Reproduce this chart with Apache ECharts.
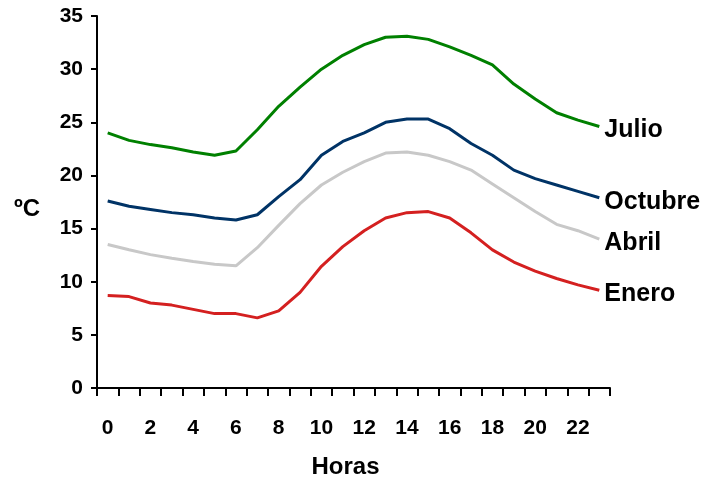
<!DOCTYPE html>
<html>
<head>
<meta charset="utf-8">
<script src="https://cdn.jsdelivr.net/npm/echarts@6/dist/echarts.min.js"></script>
<style>
html,body{margin:0;padding:0;background:#fff;}
#chart{width:702px;height:484px;}
</style>
</head>
<body>
<div id="chart"></div>
<script>
var hours = ['0','1','2','3','4','5','6','7','8','9','10','11','12','13','14','15','16','17','18','19','20','21','22','23'];
var julio   = [24.0, 23.3, 22.9, 22.6, 22.2, 21.9, 22.3, 24.3, 26.5, 28.3, 30.0, 31.3, 32.3, 33.0, 33.1, 32.8, 32.1, 31.3, 30.4, 28.6, 27.2, 25.9, 25.2, 24.6];
var octubre = [17.6, 17.1, 16.8, 16.5, 16.3, 16.0, 15.8, 16.3, 18.0, 19.6, 21.9, 23.2, 24.0, 25.0, 25.3, 25.3, 24.4, 23.0, 21.9, 20.5, 19.7, 19.1, 18.5, 17.9];
var abril   = [13.5, 13.0, 12.55, 12.2, 11.9, 11.65, 11.5, 13.2, 15.3, 17.35, 19.1, 20.3, 21.3, 22.1, 22.2, 21.9, 21.3, 20.5, 19.2, 17.9, 16.6, 15.4, 14.8, 14.0];
var enero   = [8.7, 8.6, 8.0, 7.8, 7.4, 7.0, 7.0, 6.6, 7.25, 9.0, 11.45, 13.3, 14.8, 16.0, 16.5, 16.6, 16.0, 14.6, 13.0, 11.85, 11.0, 10.3, 9.7, 9.2];
var seriesNames = ['Julio', 'Octubre', 'Abril', 'Enero'];
var seriesColors = ['#008000', '#003366', '#c8c8c8', '#d42020'];
var seriesData = [julio, octubre, abril, enero];
var xName = 'Horas';
var yName = 'ºC';

var font = 'Arial, "Liberation Sans", sans-serif';
var chart = echarts.init(document.getElementById('chart'), null, {renderer: 'canvas'});
var series = seriesNames.map(function (n, i) {
  return {
    name: n,
    type: 'line',
    data: seriesData[i],
    symbol: 'none',
    smooth: false,
    lineStyle: {color: seriesColors[i], width: 3},
    itemStyle: {color: seriesColors[i]},
    endLabel: {
      show: true,
      formatter: '{a}',
      color: '#000',
      fontFamily: font,
      fontWeight: 'bold',
      fontSize: 25,
      distance: 5,
      offset: [0, 4]
    },
    animation: false
  };
});
chart.setOption({
  animation: false,
  backgroundColor: '#fff',
  grid: {left: 97, top: 16, right: 92, bottom: 93, containLabel: false},
  xAxis: {
    type: 'category',
    data: hours,
    boundaryGap: true,
    name: xName,
    nameLocation: 'middle',
    nameGap: 67,
    nameTextStyle: {color: '#000', fontFamily: font, fontWeight: 'bold', fontSize: 24, padding: [0, 16, 0, 0]},
    axisLine: {show: true, lineStyle: {color: '#000', width: 2}},
    axisTick: {show: true, interval: 0, alignWithLabel: false, length: 8, lineStyle: {color: '#000', width: 2}},
    axisLabel: {interval: 1, color: '#000', fontFamily: font, fontWeight: 'bold', fontSize: 21, margin: 30},
    splitLine: {show: false}
  },
  yAxis: {
    type: 'value',
    min: 0,
    max: 35,
    interval: 5,
    name: yName,
    nameLocation: 'middle',
    nameRotate: 0,
    nameGap: 57,
    nameTextStyle: {color: '#000', fontFamily: font, fontWeight: 'bold', fontSize: 24, verticalAlign: 'top', lineHeight: 14},
    axisLine: {show: true, lineStyle: {color: '#000', width: 2}},
    axisTick: {show: true, length: 6, lineStyle: {color: '#000', width: 2}},
    axisLabel: {color: '#000', fontFamily: font, fontWeight: 'bold', fontSize: 21, margin: 14},
    splitLine: {show: false}
  },
  series: series
});
</script>
</body>
</html>
